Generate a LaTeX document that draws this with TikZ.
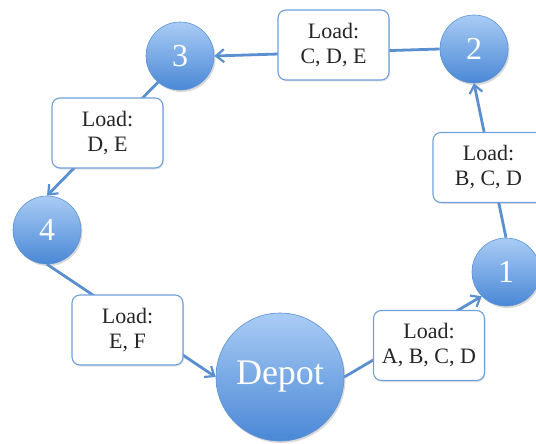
\documentclass[tikz,border=0pt]{standalone}
\usepackage{fontspec}
\setmainfont{Liberation Serif}
\usetikzlibrary{arrows.meta,shadows}

\definecolor{stopTop}{HTML}{A9CCF5}
\definecolor{stopBot}{HTML}{4A88D6}
\definecolor{stopRim}{HTML}{5B91D3}
\definecolor{routeLine}{HTML}{5A8FD0}
\definecolor{tagRim}{HTML}{6FA0DB}

\tikzset{
  stop/.style={circle, inner sep=0pt, minimum size=#1, draw=stopRim, line width=0.6pt,
    top color=stopTop, bottom color=stopBot, text=white,
    drop shadow={shadow xshift=1.5pt, shadow yshift=-2pt, opacity=0.25, fill=black!60}},
  stoplabel/.style={font=\fontsize{32}{32}\selectfont},
  tag/.style={rectangle, rounded corners=8pt, draw=tagRim, line width=1.1pt, fill=white,
    minimum width=111pt, minimum height=70pt, align=center, inner sep=0pt,
    text=black!85, font=\fontsize{22}{25}\selectfont,
    drop shadow={shadow xshift=1pt, shadow yshift=-1.5pt, opacity=0.18, fill=black!60}},
  route/.style={draw=routeLine, line width=2.8pt,
    -{Straight Barb[length=8pt, width=13pt, line width=2.2pt]}},
}

\begin{document}
\begin{tikzpicture}[x=1pt, y=-1pt]
  \useasboundingbox (0,0) rectangle (536,444);
  \clip (0,0) rectangle (536,444);

  % stops on the tour
  \node[stop=128pt, font=\fontsize{36}{36}\selectfont] (depot) at (280,377) {Depot};
  \node[stop=68pt, stoplabel] (s1) at (506,272) {1};
  \node[stop=68pt, stoplabel] (s2) at (474,49) {2};
  \node[stop=68pt, stoplabel] (s3) at (180,56) {3};
  \node[stop=68pt, stoplabel] (s4) at (47,230) {4};

  % legs of the tour
  \draw[route] (depot.east) -- (s1.225);
  \draw[route] (s1.north) -- (s2.south);
  \draw[route] (s2.west) -- (s3.east);
  \draw[route] (s3.230) -- (s4.north);
  \draw[route] (s4.south) -- (depot.west);

  % load carried on each leg
  \node[tag] (l1) at (429,345.5) {Load:\\A, B, C, D};
  \node[tag] (l2) at (488.5,167.5) {Load:\\B, C, D};
  \node[tag] (l3) at (333.5,45) {Load:\\C, D, E};
  \node[tag] (l4) at (107.5,133) {Load:\\D, E};
  \node[tag] (l5) at (127.5,330) {Load:\\E, F};
\end{tikzpicture}
\end{document}
